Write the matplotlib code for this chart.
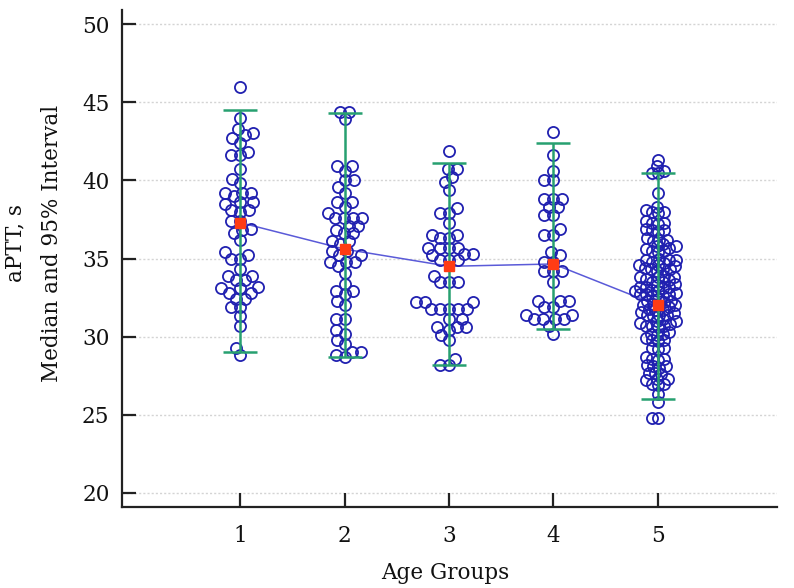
import numpy as np
import matplotlib
matplotlib.use("Agg")
import matplotlib.pyplot as plt

# ---------------- data ----------------
groups = [1, 2, 3, 4, 5]
tick_labels = ["1", "2", "3", "4", "5"]
y_ticks = [20, 25, 30, 35, 40, 45, 50]

g1 = [46.0, 44.0, 43.3, 43.0, 42.9, 42.7, 42.4, 41.8, 41.6, 41.6, 40.7, 40.1, 39.8,
      39.2, 39.2, 39.2, 39.0, 38.6, 38.6, 38.5, 38.1, 38.1, 38.0, 37.4, 37.4, 36.9,
      36.8, 36.6, 36.2, 35.4, 35.2, 35.0, 35.0, 34.3, 33.9, 33.9, 33.6, 33.6, 33.2,
      33.1, 33.1, 32.8, 32.8, 32.4, 32.4, 31.9, 31.9, 31.3, 30.7, 29.3, 28.8]
g2 = [44.4, 44.4, 43.9, 40.9, 40.9, 40.6, 40.0, 40.0, 39.6, 39.2, 38.6, 38.6, 38.3,
      37.9, 37.6, 37.6, 37.6, 37.6, 37.1, 37.1, 36.8, 36.6, 36.6, 36.1, 36.1, 35.9,
      35.5, 35.5, 35.2, 35.2, 34.8, 34.8, 34.8, 34.5, 34.1, 33.4, 32.9, 32.9, 32.7,
      32.3, 32.0, 31.1, 31.1, 30.4, 30.2, 29.8, 29.5, 29.0, 29.0, 28.8, 28.7]
g3 = [41.9, 40.7, 40.7, 40.2, 39.9, 39.4, 38.2, 37.9, 37.9, 37.3, 36.5, 36.5, 36.3,
      36.3, 35.7, 35.7, 35.7, 35.7, 35.3, 35.3, 35.2, 34.9, 34.9, 34.9, 33.9, 33.5,
      33.5, 33.5, 32.2, 32.2, 32.2, 31.8, 31.8, 31.8, 31.8, 31.8, 31.1, 31.1, 30.6,
      30.6, 30.6, 30.4, 30.1, 29.8, 28.6, 28.2, 28.2]
g4 = [43.1, 41.6, 40.6, 40.0, 40.0, 38.8, 38.8, 38.8, 38.3, 38.3, 37.8, 37.8, 36.9,
      36.5, 36.5, 35.4, 35.2, 34.8, 34.8, 34.2, 34.2, 34.2, 33.5, 32.3, 32.3, 32.3,
      31.9, 31.9, 31.4, 31.4, 31.1, 31.1, 31.1, 31.1, 30.7, 30.2]
g5 = [41.3, 40.9, 40.6, 40.5, 40.5, 39.2, 38.3,
      38.0, 38.0, 38.1, 37.9, 37.3, 37.3, 37.4, 37.2, 36.8, 36.8, 36.9, 36.7,
      36.2, 36.2, 36.3, 36.1, 35.8, 35.8, 35.9, 35.7, 35.5, 35.5, 35.4, 35.6,
      34.9, 34.9, 35.0, 34.8, 34.9, 34.6, 34.6, 34.5, 34.7,
      34.3, 34.3, 34.2, 34.4, 34.3, 33.8, 33.8, 33.9, 33.7, 33.8,
      33.5, 33.5, 33.4, 33.6, 33.2, 33.2, 33.1, 33.3, 33.2,
      32.9, 32.9, 32.8, 33.0, 32.7, 32.7, 32.6, 32.7, 32.6,
      32.3, 32.3, 32.4, 32.2, 32.0, 32.0, 31.9, 32.1, 32.0,
      31.7, 31.7, 31.6, 31.8, 31.4, 31.4, 31.3, 31.5, 31.4,
      31.0, 31.0, 30.9, 31.1, 30.7, 30.7, 30.6, 30.8, 30.7,
      30.2, 30.2, 30.1, 30.3, 29.8, 29.8, 29.7, 29.9,
      29.3, 29.3, 29.2, 28.6, 28.6, 28.5, 28.7, 28.1, 28.1, 28.0, 28.2,
      27.7, 27.7, 27.6, 27.3, 27.3, 27.2, 27.0, 27.0, 26.9,
      26.3, 25.8, 24.8, 24.8]
values = [g1, g2, g3, g4, g5]

medians = [37.3, 35.6, 34.5, 34.65, 32.0]
ci_low = [29.0, 28.7, 28.2, 30.5, 26.0]
ci_high = [44.5, 44.3, 41.1, 42.4, 40.5]

# ---------------- figure ----------------
W, H, DPI = 794, 588, 100
fig = plt.figure(figsize=(W / DPI, H / DPI), dpi=DPI)
ax = fig.add_axes([122 / W, 1 - 507 / H, (777 - 122) / W, (507 - 10) / H])
ax.set_xlim(-0.13, 6.14)
ax.set_ylim(19.1, 50.9)

serif = ["DejaVu Serif"]
blue = "#2020b0"
green = "#27a070"
red = "#ff3c14"
lineblue = "#5a5ad8"

# grid
for yt in y_ticks:
    ax.axhline(yt, color="#d4d4d4", lw=1.0, ls=(0, (1.5, 1.5)), zorder=0)

# swarm placement in pixel space
px_x = ax.transData.transform((1, 0))[0] - ax.transData.transform((0, 0))[0]
px_y = ax.transData.transform((0, 1))[1] - ax.transData.transform((0, 0))[1]
spacing = [9.0, 9.0, 9.0, 9.0, 6.3]  # min center distance in px per group


def swarm(vals, d):
    ys = np.sort(np.array(vals, float)) * px_y
    placed = []
    offs = np.zeros(len(ys))
    for i, y in enumerate(ys):
        near = [(px, py) for px, py in placed if abs(py - y) < d]
        cands = [0.0]
        for px, py in near:
            dx = np.sqrt(d * d - (py - y) ** 2)
            cands += [px + dx, px - dx]
        cands = sorted(cands, key=lambda c: (abs(c), c))
        for c in cands:
            if all((c - px) ** 2 + (y - py) ** 2 >= d * d - 1e-6 for px, py in near):
                break
        offs[i] = c
        placed.append((c, y))
    return offs / px_x, ys / px_y


for g, vals, d in zip(groups, values, spacing):
    ox, yy = swarm(vals, d)
    ax.plot(g + ox, yy, "o", ms=8.0, mfc="none", mec=blue, mew=1.3, zorder=3)

# error bars
ax.errorbar(groups, medians,
            yerr=[np.array(medians) - np.array(ci_low), np.array(ci_high) - np.array(medians)],
            fmt="none", ecolor=green, elinewidth=1.8, capsize=12, capthick=1.8, zorder=4)

# median line and markers
ax.plot(groups, medians, "-", color=lineblue, lw=1.1, zorder=2)
ax.plot(groups, medians, "s", color=red, ms=7.5, mec=red, zorder=5)

# axes styling
for s in ["top", "right"]:
    ax.spines[s].set_visible(False)
for s in ["left", "bottom"]:
    ax.spines[s].set_linewidth(1.6)
    ax.spines[s].set_color("#222222")
ax.set_yticks(y_ticks)
ax.set_yticklabels([str(v) for v in y_ticks], fontfamily=serif, fontsize=15.5)
ax.set_xticks(groups)
ax.set_xticklabels(tick_labels, fontfamily=serif, fontsize=15.5)
ax.tick_params(axis="y", direction="in", length=10, width=1.6, pad=9, colors="#222222",
               labelcolor="#111111")
ax.tick_params(axis="x", direction="in", length=10, width=1.6, pad=13, colors="#222222",
               labelcolor="#111111")

fig.text(15 / W, 1 - 243 / H, "aPTT, s", rotation=90, ha="center", va="center",
         fontfamily=serif, fontsize=15.5, color="#111111")
fig.text(52 / W, 1 - 243 / H, "Median and 95% Interval", rotation=90, ha="center",
         va="center", fontfamily=serif, fontsize=15.5, color="#111111")
fig.text(445 / W, 1 - 573 / H, "Age Groups", ha="center", va="center",
         fontfamily=serif, fontsize=15.5, color="#111111")

fig.savefig("out.png", dpi=DPI)
